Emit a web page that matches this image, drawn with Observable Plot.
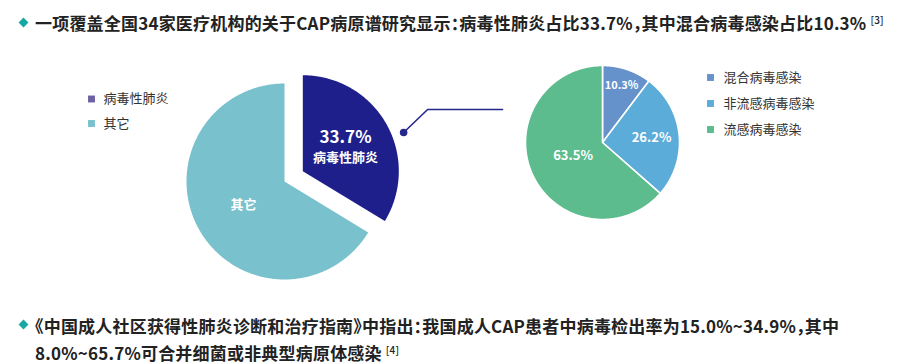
<!DOCTYPE html>
<html><head><meta charset="utf-8">
<script src="https://cdn.jsdelivr.net/npm/d3@7"></script>
<script src="https://cdn.jsdelivr.net/npm/@observablehq/plot@0.6"></script>
<style>
body{margin:0;background:#fff;}
#wrap{position:relative;width:902px;height:364px;overflow:hidden;font-family:"Noto Sans CJK SC",sans-serif;}
#chart{position:absolute;left:0;top:0;}
.note{position:absolute;left:35px;font-size:17px;font-weight:700;color:#222;line-height:27px;white-space:nowrap;font-feature-settings:"halt";letter-spacing:0.2px;}
.dia{position:absolute;width:7px;height:7px;background:#17a8a4;transform:rotate(45deg);}
.sup{font-size:10px;font-weight:500;position:relative;top:-6px;margin-left:4px;}
</style></head>
<body>
<div id="wrap">
  <div id="chart"></div>
  <div class="dia" style="left:19.5px;top:18.5px"></div>
  <div class="note" id="title" style="top:8.5px"></div>
  <div class="dia" style="left:19.5px;top:320.5px"></div>
  <div class="note" id="foot" style="top:311.5px"></div>
</div>
<script>
// ---- data ----
const titleText = "一项覆盖全国34家医疗机构的关于CAP病原谱研究显示：病毒性肺炎占比33.7%，其中混合病毒感染占比10.3%";
const titleRef = "[3]";
const footLine1 = "《中国成人社区获得性肺炎诊断和治疗指南》中指出：我国成人CAP患者中病毒检出率为15.0%~34.9%，其中";
const footLine2 = "8.0%~65.7%可合并细菌或非典型病原体感染";
const footRef = "[4]";

const leftCategories = ["病毒性肺炎", "其它"];
const leftValues = [33.7, 66.3];
const rightCategories = ["混合病毒感染", "非流感病毒感染", "流感病毒感染"];
const rightValues = [10.3, 26.2, 63.5];

// ---- styles ----
const leftColors = ["#1e1f8a", "#79c1cd"];
const leftLegendColors = ["#6a62a2", "#79c1cd"];
const rightColors = ["#6692cc", "#5bacd8", "#5cbc8e"];
const accent = "#25278c";

document.getElementById("title").innerHTML = titleText + `<span class="sup">${titleRef}</span>`;
document.getElementById("foot").innerHTML = footLine1 + "<br>" + footLine2 + `<span class="sup">${footRef}</span>`;

// ---- layout ----
const W = 902, H = 364;
const L = {cx: 284, cy: 181, r: 98, explode: 21, explodedR: 96};
const R = {cx: 602, cy: 142, r: 77};
const rightLabelRadius = [0.78, 0.64, 0.42];

function wedge(cx, cy, r, a0, a1) {
  const pts = [[cx, cy]];
  const n = Math.max(2, Math.ceil((a1 - a0) / (Math.PI / 360)));
  for (let i = 0; i <= n; i++) {
    const a = a0 + (a1 - a0) * i / n;
    pts.push([cx + r * Math.sin(a), cy - r * Math.cos(a)]);
  }
  pts.push([cx, cy]);
  return {type: "Polygon", coordinates: [pts]};
}
const pie = d3.pie().sort(null);

const leftArcs = pie(leftValues).map((a, i) => {
  const mid = (a.startAngle + a.endAngle) / 2;
  const off = i === 0 ? L.explode : 0;
  const rr = i === 0 ? L.explodedR : L.r;
  const cx = L.cx + off * Math.sin(mid), cy = L.cy - off * Math.cos(mid);
  return {cat: leftCategories[i], value: leftValues[i], mid, cx, cy, rr,
    type: "Feature", properties: {}, geometry: wedge(cx, cy, rr, a.startAngle, a.endAngle)};
});
const rightArcs = pie(rightValues).map((a, i) => {
  const mid = (a.startAngle + a.endAngle) / 2;
  const lr = rightLabelRadius[i] * R.r;
  return {cat: rightCategories[i], value: rightValues[i], mid,
    lx: R.cx + lr * Math.sin(mid), ly: R.cy - lr * Math.cos(mid),
    type: "Feature", properties: {}, geometry: wedge(R.cx, R.cy, R.r, a.startAngle, a.endAngle)};
});

// left labels
const lv = leftArcs[0];
const lvx = lv.cx + 0.5 * L.r * Math.sin(lv.mid), lvy = lv.cy - 0.5 * L.r * Math.cos(lv.mid);
const lo = leftArcs[1];
const lox = lo.cx + 0.48 * L.r * Math.sin(lo.mid), loy = lo.cy - 0.48 * L.r * Math.cos(lo.mid);

// connector from exploded slice to right pie
const anchorA = 69 * Math.PI / 180, anchorR = lv.rr + 12;
const p0 = [lv.cx + anchorR * Math.sin(anchorA), lv.cy - anchorR * Math.cos(anchorA)];
const p1 = [p0[0] + 24, p0[1] - 23];
const p2 = [R.cx - R.r - 23, p1[1]];

// legends
const leftLegend = leftCategories.map((c, i) => ({c, color: leftLegendColors[i], x: 91, y: 98.5 + i * 24.5}));
const rightLegend = rightCategories.map((c, i) => ({c, color: rightColors[i], x: 710, y: 77 + i * 26}));

const chart = Plot.plot({
  width: W, height: H, margin: 0,
  projection: {type: "identity"},
  color: {domain: [...leftCategories, ...rightCategories], range: [...leftColors, ...rightColors]},
  style: {fontFamily: "'Noto Sans CJK SC', sans-serif", background: "transparent"},
  marks: [
    Plot.geo(leftArcs, {fill: "cat"}),
    Plot.geo(rightArcs, {fill: "cat", stroke: "white", strokeWidth: 1.6}),
    Plot.line([p0, p1, p2], {x: d => d[0], y: d => d[1], stroke: accent, strokeWidth: 1.6}),
    Plot.dot([p0], {x: d => d[0], y: d => d[1], r: 3.8, fill: accent}),
    Plot.text([lv], {x: () => lvx, y: () => lvy - 10, text: d => d.value + "%", fill: "white", fontSize: 17, fontWeight: "bold"}),
    Plot.text([lv], {x: () => lvx, y: () => lvy + 11, text: "cat", fill: "white", fontSize: 13, fontWeight: "bold"}),
    Plot.text([lo], {x: () => lox, y: () => loy, text: "cat", fill: "white", fontSize: 13, fontWeight: "bold"}),
    Plot.text(rightArcs, {x: "lx", y: "ly", text: d => d.value + "%", fill: "white", fontSize: d => d.value < 15 ? 11 : 13, fontWeight: "bold"}),
    Plot.dot(leftLegend, {x: "x", y: "y", symbol: "square", r: 3.9, fill: "color"}),
    Plot.text(leftLegend, {x: d => d.x + 12, y: "y", text: "c", textAnchor: "start", fill: "#333", fontSize: 13}),
    Plot.dot(rightLegend, {x: "x", y: "y", symbol: "square", r: 3.9, fill: "color"}),
    Plot.text(rightLegend, {x: d => d.x + 13, y: "y", text: "c", textAnchor: "start", fill: "#333", fontSize: 13})
  ]
});
document.getElementById("chart").appendChild(chart);
</script>
</body></html>
